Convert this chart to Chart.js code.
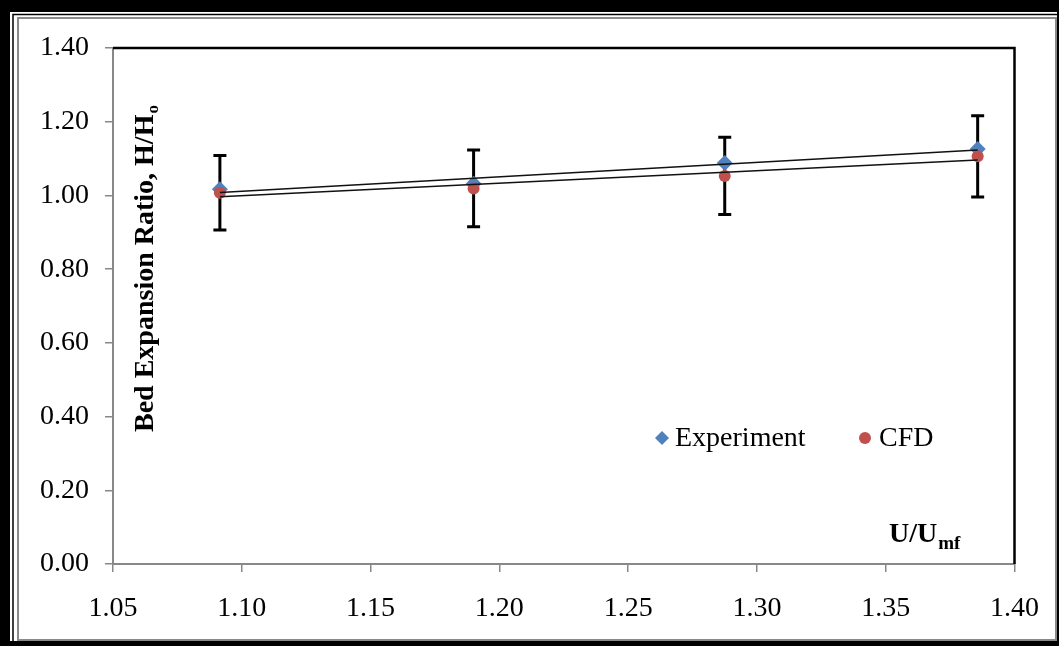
<!DOCTYPE html>
<html>
<head>
<meta charset="utf-8">
<script src="https://cdn.jsdelivr.net/npm/chart.js@4/dist/chart.umd.min.js"></script>
<style>
    html, body { margin: 0; padding: 0; background: #fff; }
    #wrap { width: 1059px; height: 646px; position: relative; }
</style>
</head>
<body>
<div id="wrap"><canvas id="chart"></canvas></div>
<script>
// values
const uRatio = [1.0915, 1.19, 1.2875, 1.3857];        // U/Umf
const experiment = [1.017, 1.032, 1.088, 1.126];      // H/Ho measured
const cfd = [1.007, 1.019, 1.053, 1.106];             // H/Ho simulated
const cfdError = [0.101, 0.104, 0.105, 0.110];        // error bar half-length on CFD
const xTicks = [1.05, 1.10, 1.15, 1.20, 1.25, 1.30, 1.35, 1.40];
const yTicks = [0.00, 0.20, 0.40, 0.60, 0.80, 1.00, 1.20, 1.40];

const FONT = '"Liberation Serif", "Times New Roman", serif';
const BLUE = '#4F81BD';
const RED = '#C0504D';
const AXIS_GRAY = '#888888';

function toPoints(xs, ys) {
    return xs.map((x, i) => ({ x: x, y: ys[i] }));
}

// least squares trendline, drawn from first to last x like Excel does
function trendline(xs, ys) {
    const n = xs.length;
    const mx = xs.reduce((a, b) => a + b, 0) / n;
    const my = ys.reduce((a, b) => a + b, 0) / n;
    let sxy = 0, sxx = 0;
    for (let i = 0; i < n; i++) {
        sxy += (xs[i] - mx) * (ys[i] - my);
        sxx += (xs[i] - mx) * (xs[i] - mx);
    }
    const slope = sxy / sxx;
    const x0 = xs[0], x1 = xs[n - 1];
    return [{ x: x0, y: my + slope * (x0 - mx) }, { x: x1, y: my + slope * (x1 - mx) }];
}

const framePlugin = {
    id: 'frame',
    beforeDraw(chart) {
        const ctx = chart.ctx;
        ctx.save();
        ctx.fillStyle = '#000';
        ctx.fillRect(0, 0, 1059, 646);
        ctx.fillStyle = '#fff';
        ctx.fillRect(10, 12, 1047, 629);
        ctx.strokeStyle = '#000';
        ctx.lineWidth = 1.5;
        ctx.beginPath();
        ctx.moveTo(13, 641);
        ctx.lineTo(13, 14.5);
        ctx.lineTo(1057, 14.5);
        ctx.stroke();
        ctx.strokeStyle = '#8a8a8a';
        ctx.lineWidth = 2;
        ctx.strokeRect(18, 18, 1038, 622);
        ctx.restore();
    }
};

const errorBarPlugin = {
    id: 'errorBars',
    beforeDatasetsDraw(chart) {
        const ctx = chart.ctx;
        const xs = chart.scales.x, ys = chart.scales.y;
        ctx.save();
        ctx.strokeStyle = '#000';
        ctx.lineWidth = 3;
        for (let i = 0; i < uRatio.length; i++) {
            const px = xs.getPixelForValue(uRatio[i]);
            const top = ys.getPixelForValue(cfd[i] + cfdError[i]);
            const bot = ys.getPixelForValue(cfd[i] - cfdError[i]);
            ctx.beginPath();
            ctx.moveTo(px, top);
            ctx.lineTo(px, bot);
            ctx.moveTo(px - 6.5, top);
            ctx.lineTo(px + 6.5, top);
            ctx.moveTo(px - 6.5, bot);
            ctx.lineTo(px + 6.5, bot);
            ctx.stroke();
        }
        ctx.restore();
    }
};

const decorPlugin = {
    id: 'decor',
    afterDraw(chart) {
        const ctx = chart.ctx;
        const area = chart.chartArea;
        ctx.save();

        // black top and right edge of plot area
        ctx.strokeStyle = '#000';
        ctx.lineWidth = 2.5;
        ctx.beginPath();
        ctx.moveTo(area.left, area.top);
        ctx.lineTo(area.right, area.top);
        ctx.lineTo(area.right, area.bottom);
        ctx.stroke();

        // y axis title, rotated, with subscript o
        ctx.fillStyle = '#000';
        ctx.translate(153, 432);
        ctx.rotate(-Math.PI / 2);
        ctx.textBaseline = 'alphabetic';
        ctx.textAlign = 'left';
        ctx.font = 'bold 28px ' + FONT;
        const yTitle = 'Bed Expansion Ratio, H/H';
        ctx.fillText(yTitle, 0, 0);
        const w = ctx.measureText(yTitle).width;
        ctx.font = 'bold 17px ' + FONT;
        ctx.fillText('o', w + 1, 5);
        ctx.setTransform(1, 0, 0, 1, 0, 0);

        // x axis title inside plot
        ctx.font = 'bold 28px ' + FONT;
        ctx.fillText('U/U', 889, 542);
        const wx = ctx.measureText('U/U').width;
        ctx.font = 'bold 19px ' + FONT;
        ctx.fillText('mf', 889 + wx + 1, 549);

        // legend inside plot
        ctx.font = '28px ' + FONT;
        ctx.textBaseline = 'middle';
        const ly = 438;
        ctx.fillStyle = BLUE;
        ctx.beginPath();
        ctx.moveTo(662, ly - 7);
        ctx.lineTo(669, ly);
        ctx.lineTo(662, ly + 7);
        ctx.lineTo(655, ly);
        ctx.closePath();
        ctx.fill();
        ctx.fillStyle = '#000';
        ctx.fillText('Experiment', 675, ly + 1);
        ctx.fillStyle = RED;
        ctx.beginPath();
        ctx.arc(865, ly, 6, 0, Math.PI * 2);
        ctx.fill();
        ctx.fillStyle = '#000';
        ctx.fillText('CFD', 879, ly + 1);

        ctx.restore();
    }
};

function initChart() {
    const ctx = document.getElementById('chart').getContext('2d');
    const chart = new Chart(ctx, {
        type: 'scatter',
        data: {
            datasets: [
                {
                    label: 'Experiment trend',
                    data: trendline(uRatio, experiment),
                    showLine: true,
                    borderColor: '#111',
                    borderWidth: 1.5,
                    pointRadius: 0,
                    order: 0
                },
                {
                    label: 'CFD trend',
                    data: trendline(uRatio, cfd),
                    showLine: true,
                    borderColor: '#111',
                    borderWidth: 1.5,
                    pointRadius: 0,
                    order: 0
                },
                {
                    label: 'CFD',
                    data: toPoints(uRatio, cfd),
                    pointStyle: 'circle',
                    pointRadius: 6,
                    backgroundColor: RED,
                    borderColor: RED,
                    borderWidth: 0,
                    order: 1
                },
                {
                    label: 'Experiment',
                    data: toPoints(uRatio, experiment),
                    pointStyle: 'rectRot',
                    pointRadius: 8,
                    backgroundColor: BLUE,
                    borderColor: BLUE,
                    borderWidth: 0,
                    order: 2
                }
            ]
        },
        options: {
            responsive: true,
            maintainAspectRatio: false,
            animation: false,
            layout: {
                autoPadding: false,
                padding: { left: 0, top: 48, right: 44, bottom: 0 }
            },
            plugins: {
                legend: { display: false },
                tooltip: { enabled: false }
            },
            scales: {
                x: {
                    type: 'linear',
                    min: xTicks[0],
                    max: xTicks[xTicks.length - 1],
                    afterBuildTicks: (scale) => {
                        scale.ticks = xTicks.map(v => ({ value: v }));
                    },
                    afterFit: (scale) => { scale.height = 82; },
                    ticks: {
                        callback: (v) => Number(v).toFixed(2),
                        color: '#000',
                        font: { family: FONT, size: 28 },
                        padding: 20,
                        maxRotation: 0,
                        minRotation: 0
                    },
                    grid: {
                        display: true,
                        drawOnChartArea: false,
                        drawTicks: true,
                        tickLength: 8,
                        color: AXIS_GRAY,
                        lineWidth: 1.5
                    },
                    border: { display: true, color: AXIS_GRAY, width: 2 }
                },
                y: {
                    type: 'linear',
                    min: yTicks[0],
                    max: yTicks[yTicks.length - 1],
                    afterBuildTicks: (scale) => {
                        scale.ticks = yTicks.map(v => ({ value: v }));
                    },
                    afterFit: (scale) => { scale.width = 113; },
                    ticks: {
                        callback: (v) => Number(v).toFixed(2),
                        color: '#000',
                        font: { family: FONT, size: 28 },
                        padding: 16
                    },
                    grid: {
                        display: true,
                        drawOnChartArea: false,
                        drawTicks: true,
                        tickLength: 8,
                        color: AXIS_GRAY,
                        lineWidth: 1.5
                    },
                    border: { display: true, color: AXIS_GRAY, width: 2 }
                }
            }
        },
        plugins: [framePlugin, errorBarPlugin, decorPlugin]
    });
}

document.addEventListener('DOMContentLoaded', () => {
    initChart();
});
</script>
</body>
</html>
